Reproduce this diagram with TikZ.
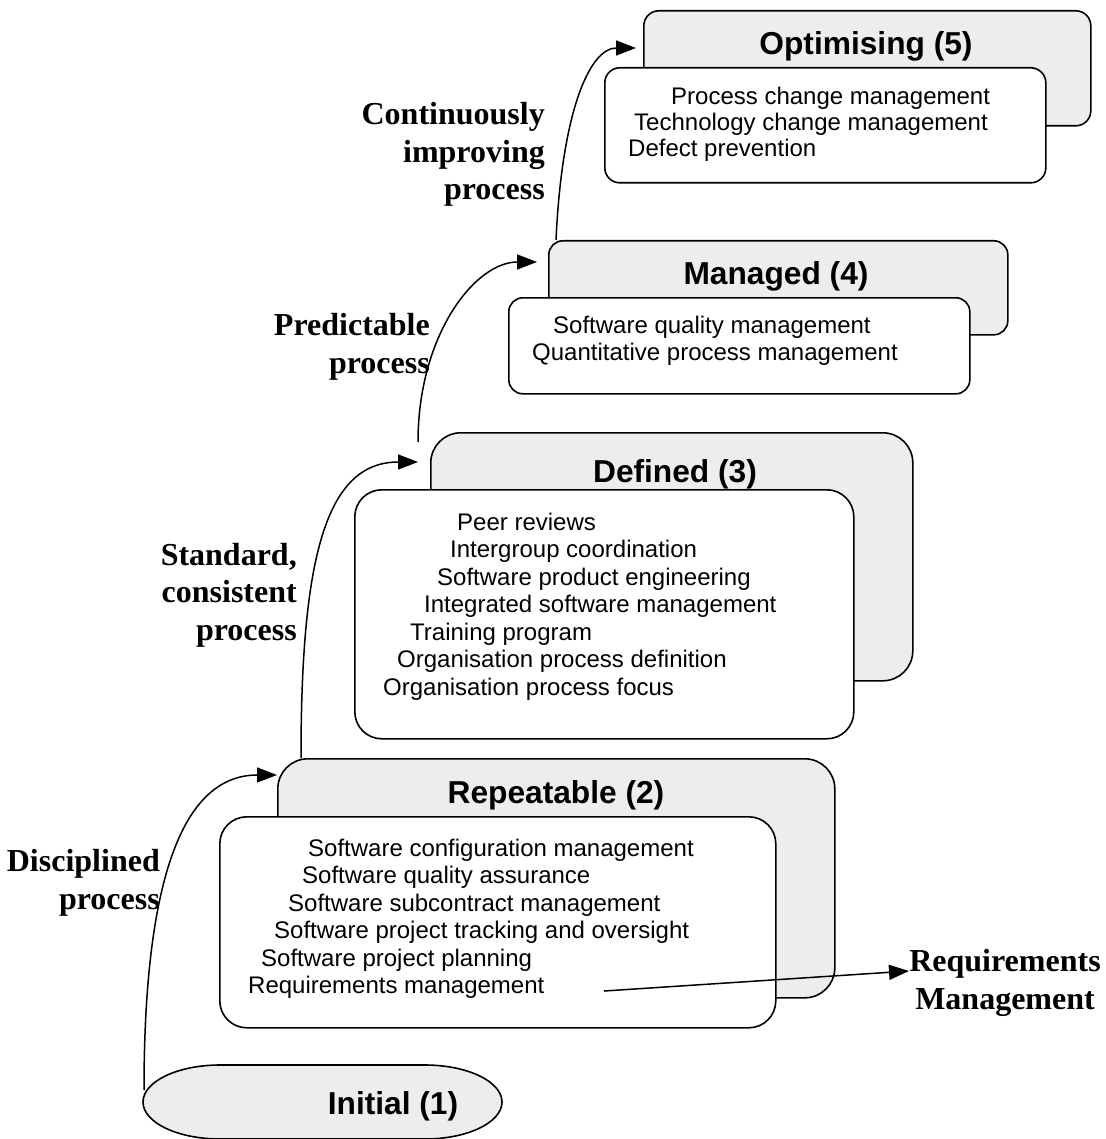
\documentclass[tikz,border=0pt]{standalone}
\usepackage{fontspec}
\setmainfont{Liberation Serif}
\setsansfont{Liberation Sans}
\usetikzlibrary{arrows.meta}
\definecolor{boxgrey}{HTML}{EDEDED}
\begin{document}
\begin{tikzpicture}[x=1pt,y=-1pt,
  back/.style={draw, line width=1.6pt, fill=boxgrey, anchor=north west, inner sep=0pt},
  front/.style={draw, line width=1.6pt, fill=white, anchor=north west, inner sep=0pt},
  title/.style={font=\fontsize{31.7}{36}\selectfont\sffamily\bfseries, anchor=base, inner sep=0pt},
  item/.style={font=\fontsize{24}{27.5}\selectfont\sffamily, anchor=base west, inner sep=0pt},
  lbl/.style={font=\fontsize{32}{37.5}\selectfont\bfseries, align=right, anchor=base east, inner sep=0pt},
  flow/.style={line width=1.5pt, -{Triangle[length=20pt,width=15pt]}}
]
\useasboundingbox (0,0) rectangle (1105,1139);

% Optimising (5)
\node[back, rounded corners=15pt, minimum width=447pt, minimum height=115pt] (optB) at (643,10) {};
\node[front, rounded corners=15pt, minimum width=441pt, minimum height=115pt] (optF) at (604,67) {};
\node[title] (optT) at (866,55) {Optimising (5)};
\node[item] (o1) at (671,105) {Process change management};
\node[item] (o2) at (634,131) {Technology change management};
\node[item] (o3) at (628,157) {Defect prevention};

% Managed (4)
\node[back, rounded corners=14pt, minimum width=459pt, minimum height=94pt] (manB) at (548,240) {};
\node[front, rounded corners=14pt, minimum width=461pt, minimum height=96pt] (manF) at (508,297) {};
\node[title] (manT) at (776,284) {Managed (4)};
\node[item] (m1) at (553,333) {Software quality management};
\node[item] (m2) at (532,360) {Quantitative process management};

% Defined (3)
\node[back, rounded corners=30pt, minimum width=482pt, minimum height=248pt] (defB) at (430,432) {};
\node[front, rounded corners=27pt, minimum width=499pt, minimum height=249pt] (defF) at (354,489) {};
\node[title] (defT) at (675,482) {Defined (3)};
\node[item] (d1) at (457,530) {Peer reviews};
\node[item] (d2) at (450,557.5) {Intergroup coordination};
\node[item] (d3) at (437,585) {Software product engineering};
\node[item] (d4) at (424,612.5) {Integrated software management};
\node[item] (d5) at (410,640) {Training program};
\node[item] (d6) at (397,667.5) {Organisation process definition};
\node[item] (d7) at (383,695) {Organisation process focus};

% Repeatable (2)
\node[back, rounded corners=30pt, minimum width=557pt, minimum height=239pt] (repB) at (277,758) {};
\node[front, rounded corners=27pt, minimum width=556pt, minimum height=211pt] (repF) at (219,816) {};
\node[title] (repT) at (556,803) {Repeatable (2)};
\node[item] (r1) at (308,856) {Software configuration management};
\node[item] (r2) at (302,883.5) {Software quality assurance};
\node[item] (r3) at (288,911) {Software subcontract management};
\node[item] (r4) at (274,938.5) {Software project tracking and oversight};
\node[item] (r5) at (261,966) {Software project planning};
\node[item] (r6) at (248,993.5) {Requirements management};

% Initial (1)
\draw[line width=1.6pt, fill=boxgrey] (220,1065) -- (425,1065)
  arc[start angle=90, end angle=-90, x radius=77pt, y radius=37pt] -- (220,1139)
  arc[start angle=270, end angle=90, x radius=77pt, y radius=37pt] -- cycle;
\node[title] (initT) at (393,1114) {Initial (1)};

% labels (base anchor = baseline of last line)
\node[lbl] (lCont) at (545,200) {Continuously\\improving\\process};
\node[lbl] (lPred) at (430,373) {Predictable\\process};
\node[lbl] (lStd) at (297,640) {Standard,\\consistent\\process};
\node[lbl] (lDisc) at (160,909) {Disciplined\\process};
\node[lbl, align=center, anchor=base] (lReq) at (1005,1009) {Requirements\\Management};

% connectors
\coordinate (initL) at (144,1090);
\coordinate (reqStart) at (604,991);
\coordinate (reqTip) at (909,971);

\draw[flow] (initL) .. controls (144,860) and (190,775) .. ([yshift=-17pt]repB.north west);
\draw[flow] ([xshift=24pt]repB.north west) .. controls (301,560) and (325,462) .. ([xshift=-12pt,yshift=-30pt]defB.north west);
\draw[flow] ([xshift=-12pt,yshift=-10pt]defB.north west) .. controls (418,335) and (475,262) .. ([xshift=-11pt,yshift=-22pt]manB.north west);
\draw[flow] ([xshift=8pt]manB.north west) .. controls (562,110) and (590,48) .. ([xshift=-7pt,yshift=-38pt]optB.north west);
\draw[flow] (reqStart) -- (reqTip);
\end{tikzpicture}
\end{document}
